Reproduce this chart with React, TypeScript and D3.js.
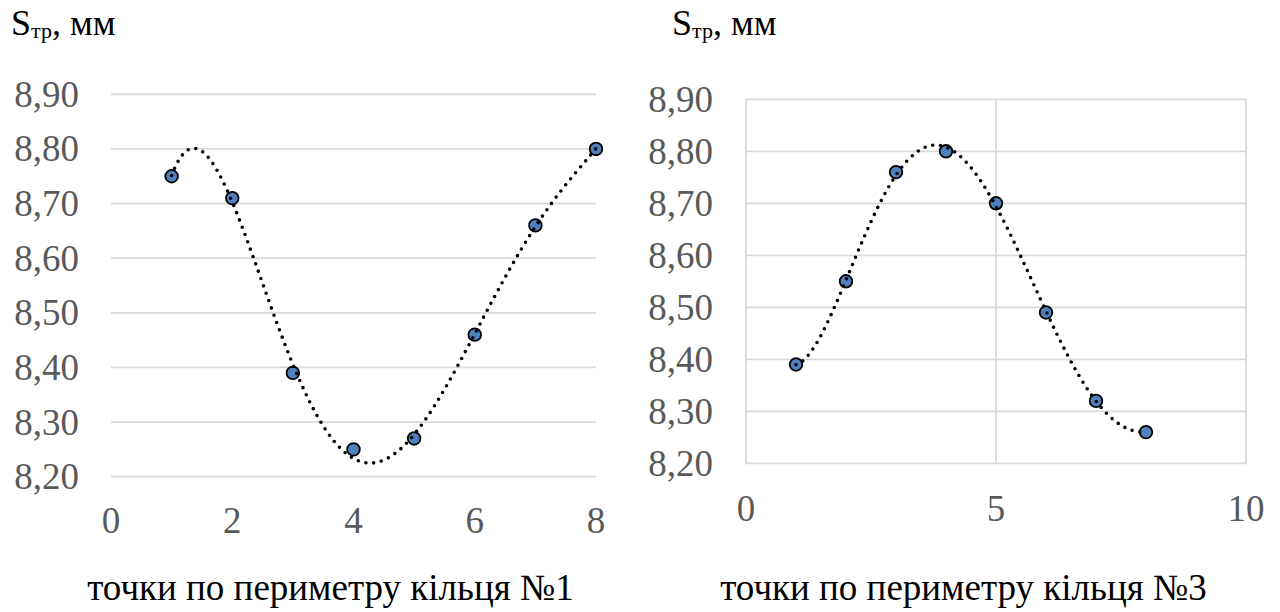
import React from "react";
import * as d3 from "d3";

// Measured wall thickness at points around the ring perimeter
const RING1_POINTS = [1, 2, 3, 4, 5, 6, 7, 8];
const RING1_VALUES = [8.75, 8.71, 8.39, 8.25, 8.27, 8.46, 8.66, 8.8];
const RING3_POINTS = [1, 2, 3, 4, 5, 6, 7, 8];
const RING3_VALUES = [8.39, 8.55, 8.76, 8.8, 8.7, 8.49, 8.32, 8.26];

const Y_TICKS = [8.2, 8.3, 8.4, 8.5, 8.6, 8.7, 8.8, 8.9];
const RING1_X_TICKS = [0, 2, 4, 6, 8];
const RING3_X_TICKS = [0, 5, 10];

const Y_TITLE_MAIN = "S";
const Y_TITLE_SUB = "тр";
const Y_TITLE_REST = ", мм";
const RING1_X_TITLE = "точки по периметру кільця №1";
const RING3_X_TITLE = "точки по периметру кільця №3";

// Polynomial trendline order
const RING1_TREND_ORDER = 5;
const RING3_TREND_ORDER = 5;

const FONT = "Liberation Serif, Tinos, Times New Roman, DejaVu Serif, serif";
const GRID = "#d9d9d9";
const TICK_COLOR = "#595959";
const MARKER_FILL = "#4f81bd";

// Least-squares polynomial fit (normal equations + Gaussian elimination)
function polyfit(xs: number[], ys: number[], order: number): number[] {
  const n = order + 1;
  const A: number[][] = Array.from({ length: n }, () => new Array(n + 1).fill(0));
  for (let i = 0; i < xs.length; i++) {
    for (let r = 0; r < n; r++) {
      for (let c = 0; c < n; c++) A[r][c] += Math.pow(xs[i], r + c);
      A[r][n] += ys[i] * Math.pow(xs[i], r);
    }
  }
  for (let col = 0; col < n; col++) {
    let piv = col;
    for (let r = col + 1; r < n; r++) if (Math.abs(A[r][col]) > Math.abs(A[piv][col])) piv = r;
    [A[col], A[piv]] = [A[piv], A[col]];
    for (let r = 0; r < n; r++) {
      if (r === col) continue;
      const f = A[r][col] / A[col][col];
      for (let c = col; c <= n; c++) A[r][c] -= f * A[col][c];
    }
  }
  return A.map((row, i) => row[n] / row[i]);
}

const evalPoly = (coef: number[], x: number) =>
  coef.reduce((s, c, i) => s + c * Math.pow(x, i), 0);

const fmtY = (v: number) => d3.format(".2f")(v).replace(".", ",");

type PanelProps = {
  xs: number[];
  ys: number[];
  order: number;
  xDomain: [number, number];
  xTicks: number[];
  xRange: [number, number];
  yRange: [number, number];
  verticalGrid: boolean;
  yLabelX: number;
  xLabelBaseline: number;
  titleX: number;
  xTitle: string;
  xTitleCenter: number;
};

const textStyle = { fontFamily: FONT };

function Panel(p: PanelProps) {
  const x = d3.scaleLinear().domain(p.xDomain).range(p.xRange);
  const y = d3.scaleLinear().domain([8.2, 8.9]).range(p.yRange);
  const coef = polyfit(p.xs, p.ys, p.order);
  const xMin = d3.min(p.xs) as number;
  const xMax = d3.max(p.xs) as number;
  const samples = d3.range(0, 301).map((i) => xMin + ((xMax - xMin) * i) / 300);
  const trend = d3
    .line<number>()
    .x((v) => x(v))
    .y((v) => y(evalPoly(coef, v)))(samples);

  return (
    <g>
      <text x={p.titleX} y={35} style={textStyle} fontSize={36} fill="#000">
        {Y_TITLE_MAIN}
        <tspan fontSize={22} dy={3}>{Y_TITLE_SUB}</tspan>
        <tspan dy={-3}>{Y_TITLE_REST}</tspan>
      </text>

      {Y_TICKS.map((t) => (
        <line key={"h" + t} x1={p.xRange[0]} x2={p.xRange[1]} y1={y(t)} y2={y(t)} stroke={GRID} strokeWidth={1.75} />
      ))}
      {p.verticalGrid &&
        p.xTicks.map((t) => (
          <line key={"v" + t} x1={x(t)} x2={x(t)} y1={p.yRange[0]} y2={p.yRange[1]} stroke={GRID} strokeWidth={1.75} />
        ))}

      {Y_TICKS.map((t) => (
        <text key={"yl" + t} x={p.yLabelX} y={y(t) + 12.5} textAnchor="end" style={textStyle} fontSize={37} fill={TICK_COLOR}>
          {fmtY(t)}
        </text>
      ))}
      {p.xTicks.map((t) => (
        <text key={"xl" + t} x={x(t)} y={p.xLabelBaseline} textAnchor="middle" style={textStyle} fontSize={37} fill={TICK_COLOR}>
          {t}
        </text>
      ))}

      {p.xs.map((v, i) => (
        <circle key={"m" + i} cx={x(v)} cy={y(p.ys[i])} r={6.3} fill={MARKER_FILL} stroke="#000" strokeWidth={1.8} />
      ))}

      <path d={trend || ""} fill="none" stroke="#000" strokeWidth={3.6} strokeDasharray="0 7.8" strokeLinecap="round" />

      <text x={p.xTitleCenter} y={600} textAnchor="middle" style={textStyle} fontSize={37} fill="#000">
        {p.xTitle}
      </text>
    </g>
  );
}

export default function App() {
  return (
    <svg width={1280} height={612} style={{ position: "absolute", left: 0, top: 0, background: "#fff" }}>
      <rect width={1280} height={612} fill="#fff" />
      <Panel
        xs={RING1_POINTS}
        ys={RING1_VALUES}
        order={RING1_TREND_ORDER}
        xDomain={[0, 8]}
        xTicks={RING1_X_TICKS}
        xRange={[111, 596]}
        yRange={[476.7, 94.3]}
        verticalGrid={false}
        yLabelX={79}
        xLabelBaseline={533}
        titleX={11}
        xTitle={RING1_X_TITLE}
        xTitleCenter={330.5}
      />
      <Panel
        xs={RING3_POINTS}
        ys={RING3_VALUES}
        order={RING3_TREND_ORDER}
        xDomain={[0, 10]}
        xTicks={RING3_X_TICKS}
        xRange={[746, 1246]}
        yRange={[463.3, 99.3]}
        verticalGrid={true}
        yLabelX={713}
        xLabelBaseline={521}
        titleX={672}
        xTitle={RING3_X_TITLE}
        xTitleCenter={963.5}
      />
    </svg>
  );
}
